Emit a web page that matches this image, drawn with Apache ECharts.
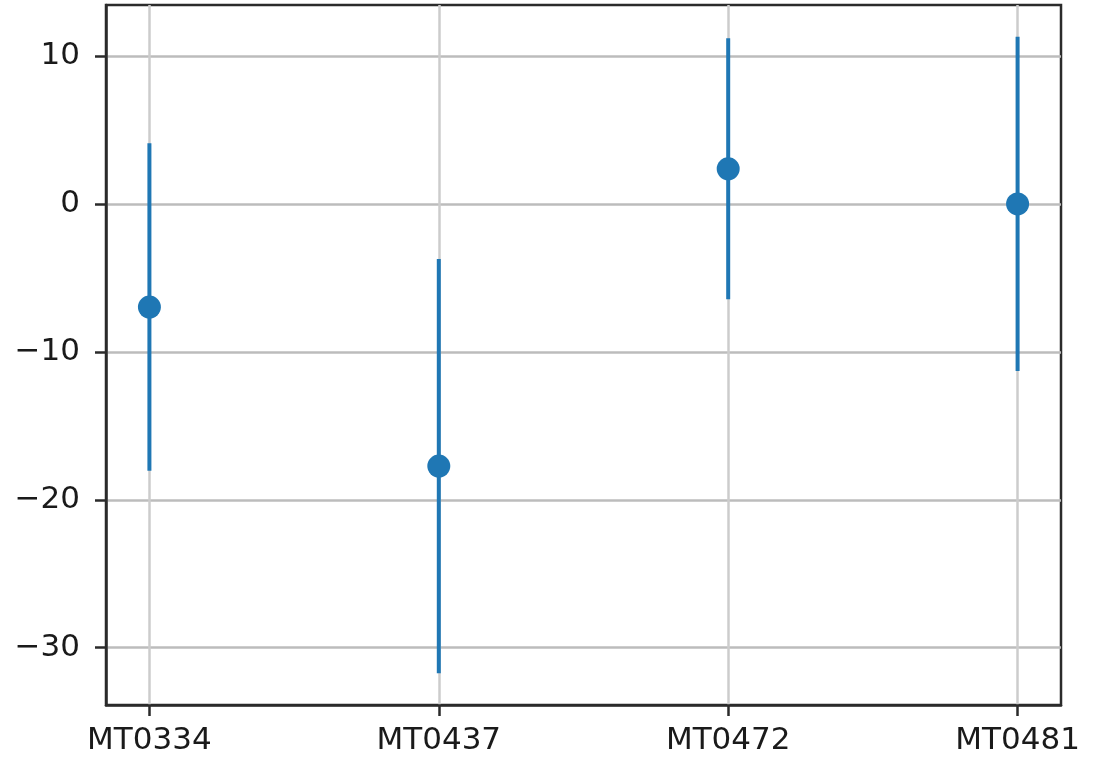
<!DOCTYPE html>
<html>
<head>
<meta charset="utf-8">
<script src="https://cdn.jsdelivr.net/npm/echarts@6/dist/echarts.min.js"></script>
<style>
  html, body { margin: 0; padding: 0; background: #fff; }
  #chart { width: 1099px; height: 758px; }
</style>
</head>
<body>
<div id="chart"></div>
<script>
// Sample identifiers along the x axis
const categories = ['MT0334', 'MT0437', 'MT0472', 'MT0481'];
// Point estimates and symmetric error half-widths
const means = [-6.97, -17.72, 2.38, 0.0];
const errors = [11.07, 14.0, 8.82, 11.3];
// Tick values
const yTicks = [-30, -20, -10, 0, 10];
const xTicks = [0, 1, 2, 3];

const blue = '#1f77b4';
const points = means.map((m, i) => [i, m]);
const bars = means.map((m, i) => [i, m - errors[i], m + errors[i]]);

const lo = Math.min(...bars.map(b => b[1]));
const hi = Math.max(...bars.map(b => b[2]));
const pad = (hi - lo) * 0.05;
const xPad = (categories.length - 1) * 0.05;

const labelFont = 'DejaVu Sans, Verdana, sans-serif';
const spine = { color: '#2b2b2b', width: 2.5 };

const chart = echarts.init(document.getElementById('chart'), null, { renderer: 'canvas' });
chart.setOption({
  animation: false,
  backgroundColor: '#fff',
  grid: {
    left: 106, right: 38, top: 5, bottom: 53,
    show: true, borderColor: '#2b2b2b', borderWidth: 2.5, backgroundColor: 'transparent'
  },
  xAxis: {
    type: 'value',
    min: -xPad,
    max: categories.length - 1 + xPad,
    axisLine: { show: true, onZero: false, lineStyle: spine },
    axisTick: { show: true, customValues: xTicks, length: 11, lineStyle: spine },
    axisLabel: {
      customValues: xTicks,
      formatter: v => categories[Math.round(v)] || '',
      color: '#1a1a1a', fontSize: 31, margin: 20,
      fontFamily: labelFont
    },
    splitLine: { show: true, lineStyle: { color: '#cccccc', width: 2.5 } }
  },
  yAxis: {
    type: 'value',
    min: lo - pad,
    max: hi + pad,
    axisLine: { show: true, onZero: false, lineStyle: spine },
    axisTick: { show: true, customValues: yTicks, length: 11, lineStyle: spine },
    axisLabel: {
      customValues: yTicks,
      formatter: v => (v < 0 ? '\u2212' + Math.abs(v) : String(v)),
      color: '#1a1a1a', fontSize: 31, margin: 26,
      fontFamily: labelFont
    },
    splitLine: { show: true, lineStyle: { color: '#bcbcbc', width: 2.5 } }
  },
  series: [
    {
      type: 'custom',
      data: bars,
      renderItem: function (params, api) {
        const x = api.value(0);
        const p1 = api.coord([x, api.value(1)]);
        const p2 = api.coord([x, api.value(2)]);
        return {
          type: 'line',
          shape: { x1: p1[0], y1: p1[1], x2: p2[0], y2: p2[1] },
          style: { stroke: blue, lineWidth: 4 }
        };
      },
      z: 3
    },
    {
      type: 'scatter',
      data: points,
      symbol: 'circle',
      symbolSize: 23,
      itemStyle: { color: blue, opacity: 1 },
      z: 4
    }
  ]
});
</script>
</body>
</html>
